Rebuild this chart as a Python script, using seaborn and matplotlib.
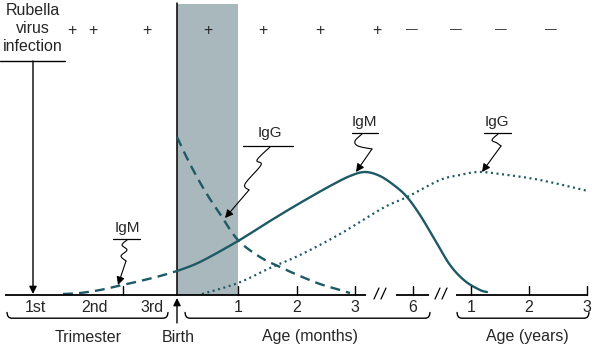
import numpy as np
import pandas as pd
import matplotlib
matplotlib.use("Agg")
import matplotlib.pyplot as plt
import seaborn as sns

sns.set_theme(style="white")
plt.rcParams['font.family'] = ['Liberation Sans', 'DejaVu Sans']

# ---------------- data (diagram units: x = timeline position, y = depth from top) -------------
fetal_igm_x = [63, 80, 100, 118, 140, 160, 177]
fetal_igm_y = [294, 293, 290, 286, 281, 276, 271]

infant_igm_x = [177, 200, 238, 270, 300, 330, 350, 365, 380, 395, 407, 420, 435, 450, 465, 480, 487]
infant_igm_y = [271, 262, 241, 221, 203, 186, 176, 172, 176, 186, 197, 215, 240, 265, 281, 290, 292]

maternal_igg_x = [177, 190, 205, 220, 238, 260, 280, 300, 320, 340, 350]
maternal_igg_y = [137, 164, 191, 214, 240, 257, 267, 276, 284, 290, 293]

infant_igg_x = [202, 238, 270, 300, 340, 383, 407, 440, 460, 478, 500, 540, 588]
infant_igg_y = [294, 283, 268, 255, 234, 208, 197, 180, 175, 172, 174, 180, 191]

tick_x = [123, 238, 297, 355, 413, 471, 529, 587]
label_x = [35, 95, 152, 238, 297, 355, 413, 471, 529, 587]
label_text = ['1st', '2nd', '3rd', '1', '2', '3', '6', '1', '2', '3']

sign_x = [72, 93, 147, 208, 263, 320, 377, 412, 456, 501, 551]
sign_text = ['+'] * 7 + ['—'] * 4

axis_segments = [(5, 366), (396, 429), (456, 588)]
break_x = [380, 441]
brace_spans = [(7, 168), (185, 430), (457, 589)]
group_x = [88, 178, 310, 527]
group_text = ['Trimester', 'Birth', 'Age (months)', 'Age (years)']

birth_x = 177
shade_span = (177, 238)

# antibody labels: text, text center, underline span, squiggle path, arrow tip
ab_labels = [
    dict(text='IgM', x=127, y=228, ul=(113, 140), uly=239,
         path=[(127, 240), (122, 245), (127, 250), (121, 256), (126, 261)], tip=(118, 285)),
    dict(text='IgG', x=270, y=133, ul=(243, 293), uly=146,
         path=[(270, 147), (257, 160), (261, 165), (245, 184), (249, 190)], tip=(225, 218)),
    dict(text='IgM', x=364, y=122, ul=(352, 378), uly=133,
         path=[(362, 134), (355, 141), (358, 146), (372, 149)], tip=(356, 172)),
    dict(text='IgG', x=497, y=122, ul=(484, 511), uly=133,
         path=[(498, 134), (492, 140), (497, 143), (501, 146)], tip=(482, 172)),
]

teal = '#1d5a66'
shade = '#a9b8bc'
fs = 11.5

# ---------------- figure ----------------
fig = plt.figure(figsize=(5.92, 3.47), dpi=100)
ax = fig.add_axes([0, 0, 1, 1])
ax.set_xlim(0, 592)
ax.set_ylim(347, 0)
ax.axis('off')

ax.axvspan(shade_span[0], shade_span[1], ymin=(347 - 295) / 347, ymax=(347 - 4) / 347,
           color=shade, lw=0, zorder=0)
ax.plot([birth_x, birth_x], [3, 295], color='black', lw=1.1, zorder=2)


def smooth(pts, n=12):
    pts = np.asarray(pts, float)
    if len(pts) < 3:
        return pts
    p = np.vstack([pts[0], pts, pts[-1]])
    out = []
    for i in range(1, len(p) - 2):
        p0, p1, p2, p3 = p[i - 1], p[i], p[i + 1], p[i + 2]
        for t in np.linspace(0, 1, n, endpoint=False):
            t2, t3 = t * t, t * t * t
            out.append(0.5 * ((2 * p1) + (-p0 + p2) * t + (2 * p0 - 5 * p1 + 4 * p2 - p3) * t2
                              + (-p0 + 3 * p1 - 3 * p2 + p3) * t3))
    out.append(p[-2])
    return np.array(out)


# curves
curves = [
    (fetal_igm_x, fetal_igm_y, 'dash'),
    (infant_igm_x, infant_igm_y, 'solid'),
    (maternal_igg_x, maternal_igg_y, 'dash'),
    (infant_igg_x, infant_igg_y, 'dot'),
]
for cx, cy, st in curves:
    s = smooth(list(zip(cx, cy)), 10)
    df = pd.DataFrame({'x': s[:, 0], 'y': s[:, 1]})
    sns.lineplot(data=df, x='x', y='y', ax=ax, color=teal, lw=1.7, sort=False,
                 estimator=None, zorder=3)
    ln = ax.lines[-1]
    if st == 'dash':
        ln.set_dashes([4.2, 2.6])
    elif st == 'dot':
        ln.set_linewidth(1.6)
        ln.set_dashes([0.9, 1.6])
ax.set_xlim(0, 592)
ax.set_ylim(347, 0)
ax.set_xlabel('')
ax.set_ylabel('')

# baseline
for a, b in axis_segments:
    ax.plot([a, b], [295, 295], color='black', lw=1.3, zorder=4, solid_capstyle='butt')
for tx in tick_x:
    ax.plot([tx, tx], [286, 295], color='black', lw=1.0, zorder=4)
for bx in break_x:
    for off in (-3.5, 3.5):
        ax.plot([bx + off - 2.5, bx + off + 2.5], [299, 288], color='black', lw=0.9)
for lx, lt in zip(label_x, label_text):
    ax.text(lx, 307, lt, ha='center', va='center', fontsize=fs)

# braces
for a, b in brace_spans:
    bx_ = [a, a + 0.6, a + 1.8, a + 4, b - 4, b - 1.8, b - 0.6, b]
    by_ = [312.5, 315.5, 317.3, 318.2, 318.2, 317.3, 315.5, 312.5]
    ax.plot(bx_, by_, color='black', lw=1.0, zorder=5, solid_joinstyle='round')

for gx, gt in zip(group_x, group_text):
    ax.text(gx, 337, gt, ha='center', va='center', fontsize=fs)

ax.annotate('', xy=(birth_x, 298), xytext=(birth_x, 323),
            arrowprops=dict(arrowstyle='-|>', color='black', lw=1.0, mutation_scale=11,
                            shrinkA=0, shrinkB=0))

# rubella
ax.text(33, 28.5, 'Rubella\nvirus\ninfection', ha='center', va='center', fontsize=fs,
        linespacing=1.22)
ax.plot([0, 65], [61, 61], color='black', lw=1.0)
ax.annotate('', xy=(33, 294), xytext=(33, 61),
            arrowprops=dict(arrowstyle='-|>', color='black', lw=1.0, mutation_scale=11,
                            shrinkA=0, shrinkB=0))

# signs
for sx, stx in zip(sign_x, sign_text):
    if stx == '+':
        ax.text(sx, 30, stx, ha='center', va='center', fontsize=fs)
    else:
        ax.text(sx, 30.5, stx, ha='center', va='center', fontsize=8.5)

# antibody labels
for lab in ab_labels:
    ax.text(lab['x'], lab['y'], lab['text'], ha='center', va='center', fontsize=11)
    ax.plot(list(lab['ul']), [lab['uly'], lab['uly']], color='black', lw=0.9)
    s = smooth(lab['path'], 8)
    ax.plot(s[:, 0], s[:, 1], color='black', lw=0.8)
    ax.annotate('', xy=lab['tip'], xytext=lab['path'][-1],
                arrowprops=dict(arrowstyle='-|>', color='black', lw=0.8, mutation_scale=12,
                                shrinkA=0, shrinkB=0))

fig.savefig('out.png', dpi=100)
